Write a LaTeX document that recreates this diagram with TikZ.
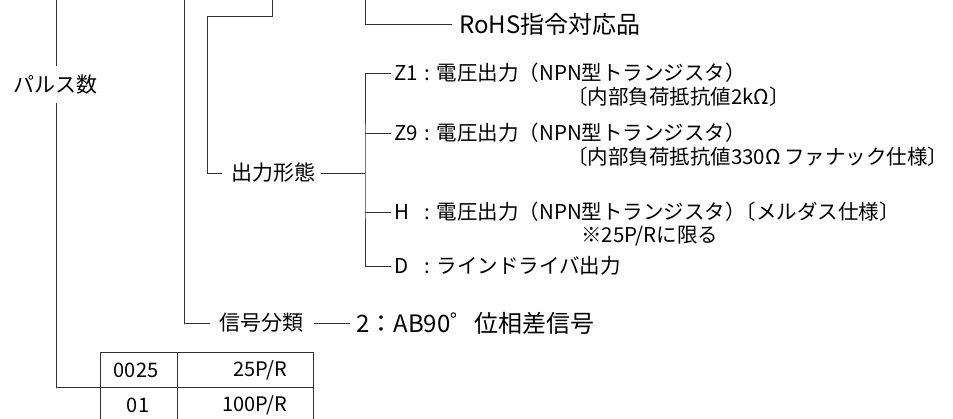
\documentclass[tikz,border=0pt]{standalone}
\usepackage{fontspec}
\setmainfont{Noto Sans CJK JP}
\begin{document}
\begin{tikzpicture}[x=1pt,y=-1pt,
  ln/.style={line width=0.9pt,draw=black!80},
  lbl/.style={inner sep=0pt,anchor=west,font=\fontsize{21}{23}\selectfont},
  opt/.style={inner sep=0pt,anchor=west,font=\fontsize{20.5}{22}\selectfont},
  big/.style={inner sep=0pt,anchor=west,font=\fontsize{24}{26}\selectfont},
  cell/.style={inner sep=0pt,font=\fontsize{20}{22}\selectfont}]
\useasboundingbox (0,0) rectangle (953,419);
% texts
\node[big] (rohs) at (459,24) {RoHS指令対応品};
\node[lbl,anchor=center] (pulse) at (55,85) {パルス数};
\node[lbl] (keitai) at (231,173) {出力形態};
\node[lbl] (bunrui) at (219,323) {信号分類};
\node[big] (ab) at (356,323) {2：AB90゜位相差信号};
\newcommand{\optkey}[1]{\makebox[1.5em][l]{#1}:\hspace{0.3em}}
\node[opt] (z1) at (394,73) {\optkey{Z1}電圧出力（NPN型トランジスタ）};
\node[opt] (z1b) at (567,97) {〔内部負荷抵抗値2kΩ〕};
\node[opt] (z9) at (394,133) {\optkey{Z9}電圧出力（NPN型トランジスタ）};
\node[opt] (z9b) at (567,157) {〔内部負荷抵抗値330Ω\,ファナック仕様〕};
\node[opt] (h) at (394,212) {\optkey{H}電圧出力（NPN型トランジスタ）\hspace{-0.5em}〔メルダス仕様〕};
\node[opt] (hb) at (581,236) {※25P/Rに限る};
\node[opt] (d) at (394,266) {\optkey{D}ラインドライバ出力};
% coordinates
\coordinate (t1) at (365,0);
\coordinate (t2) at (272,0);
\coordinate (t3) at (184,0);
\coordinate (t4) at (56,0);
\coordinate (j) at (365,173);
% connectors
\draw[ln] (t1) |- ([xshift=-7pt]rohs.west);
\draw[ln] (t2) |- (207,16) |- ([xshift=-9pt]keitai.west);
\draw[ln] ([xshift=6pt]keitai.east) -- (j);
\draw[ln] ([xshift=-3pt]z1.west) -| (j) |- ([xshift=-3pt]d.west);
\draw[ln] (z9.west -| j) -- ([xshift=-3pt]z9.west);
\draw[ln] (h.west -| j) -- ([xshift=-3pt]h.west);
\draw[ln] (t3) |- ([xshift=-9pt]bunrui.west);
\draw[ln] ([xshift=11pt]bunrui.east) -- ([xshift=-6pt]ab.west);
\draw[ln] (t4) -- (56,66);
% table
\coordinate (tl) at (100,352);
\coordinate (br) at (313,440);
\draw[ln] (tl) rectangle (br);
\draw[ln] (100,387) coordinate (sepl) -- (313,387);
\draw[ln] (177,352) -- (177,440);
\node[cell] (c11) at (136,370) {0025};
\node[cell,anchor=east] (c12) at (287,370) {25P/R};
\node[cell] (c21) at (138,405) {01};
\node[cell,anchor=east] (c22) at (287,405) {100P/R};
\draw[ln] (56,103) |- (sepl);
\end{tikzpicture}
\end{document}
